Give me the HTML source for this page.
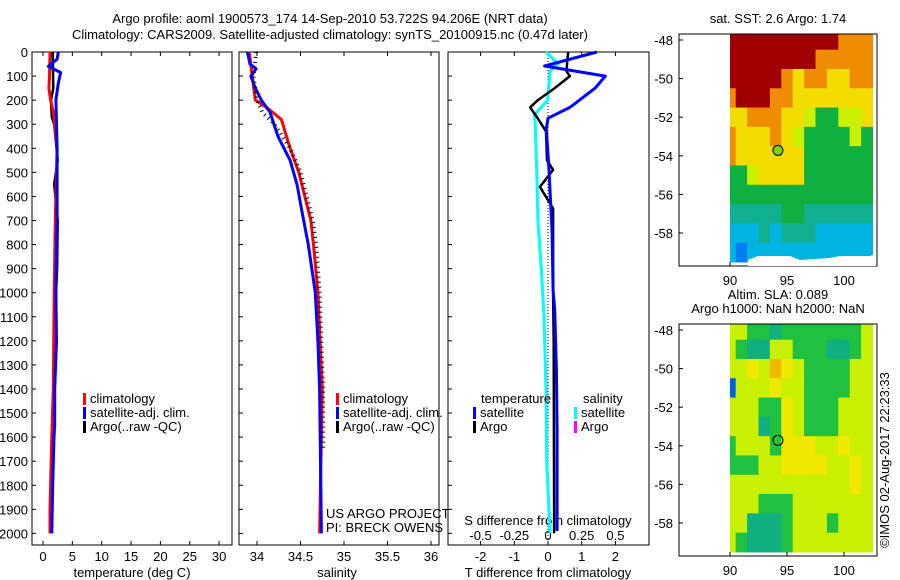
<!DOCTYPE html>
<html><head><meta charset="utf-8"><style>
html,body{margin:0;padding:0;background:#fff;}
svg{display:block;font-family:"Liberation Sans",sans-serif;}
text{font-size:13px;fill:#000;}
</style></head><body>
<svg id="c" width="900" height="580" viewBox="0 0 900 580">
<text x="330" y="23" text-anchor="middle">Argo profile: aoml 1900573_174 14-Sep-2010 53.722S 94.206E (NRT data)</text>
<text x="330" y="39" text-anchor="middle">Climatology: CARS2009. Satellite-adjusted climatology: synTS_20100915.nc (0.47d later)</text>
<text x="778" y="23" text-anchor="middle">sat. SST: 2.6 Argo: 1.74</text>
<text x="778" y="299" text-anchor="middle">Altim. SLA: 0.089</text>
<text x="778" y="313" text-anchor="middle">Argo h1000: NaN h2000: NaN</text>
<text x="0" y="0" transform="translate(889,460) rotate(-90)" text-anchor="middle">©IMOS 02-Aug-2017 22:23:33</text>
<text x="132" y="577" text-anchor="middle">temperature (deg C)</text>
<text x="337" y="577" text-anchor="middle">salinity</text>
<text x="548" y="577" text-anchor="middle">T difference from climatology</text>
<text x="548" y="525" text-anchor="middle">S difference from climatology</text>
<text x="326" y="518">US ARGO PROJECT</text>
<text x="326" y="532">PI: BRECK OWENS</text>
</svg>
<script>
// ---- data ----
const depthTicks=[0,100,200,300,400,500,600,700,800,900,1000,1100,1200,1300,1400,1500,1600,1700,1800,1900,2000];
const tempTicks=[0,5,10,15,20,25,30];
const salTicks=[34,34.5,35,35.5,36];
const salTickLabels=["34","34.5","35","35.5","36"];
const tdTicks=[-2,-1,0,1,2];
const sdTicks=[-0.5,-0.25,0,0.25,0.5];
const sdTickLabels=["-0.5","-0.25","0","0.25","0.5"];

const climTdepth=[0,50,100,150,200,250,300,400,700,1000,1400,1600,1900,2000];
const climT=[1.2,1.15,1.1,1.0,1.3,1.76,2.0,2.4,2.1,1.9,1.75,1.5,1.2,1.2];
const satTdepth=[0,30,60,85,130,200,400,700,1000,1200,1400,1550,1600,1800,2000];
const satT=[2.6,2.4,0.9,3.0,2.6,2.2,2.4,2.4,2.2,2.3,2.0,2.0,1.87,1.65,1.5];
const argoTdepth=[0,150,200,270,300,450,550,700,900,1200,1500,1800];
const argoT=[1.65,1.76,1.36,1.5,1.9,2.5,1.9,2.5,2.4,1.87,1.75,1.6];

const climSdepth=[0,200,230,280,400,500,600,700,800,1000,1400,2000];
const climS=[33.91,33.98,34.11,34.28,34.38,34.48,34.55,34.62,34.65,34.70,34.75,34.72];
const satSdepth=[0,50,70,100,150,200,250,350,450,550,650,800,900,1000,1200,1400,2000];
const satS=[33.89,33.92,33.99,33.93,33.98,34.05,34.15,34.24,34.38,34.46,34.51,34.59,34.63,34.67,34.70,34.72,34.74];
const argoSdepth=[0,100,200,250,300,400,500,600,700,800,1000,1400,1650];
const argoS=[33.99,33.96,34.0,34.06,34.2,34.38,34.5,34.57,34.64,34.68,34.72,34.76,34.76];

const dTsatDepth=[0,58,100,150,230,275,320,490,740,990,1070,1320,1570,1990];
const dTsat=[1.45,-0.1,1.7,1.4,0.65,0.0,-0.05,0.03,0.12,0.15,0.2,0.25,0.27,0.27];
const dTargoDepth=[0,40,80,100,150,200,230,270,330,450,490,560,650,720,1000,1200,1900,2000];
const dTargo=[0.6,0.57,0.55,0.65,0.2,-0.3,-0.53,-0.33,-0.06,-0.03,0.15,-0.24,0.15,0.15,0.15,0.17,0.18,0.18];
const dSsatDepth=[0,50,80,200,260,300,500,700,900,1100,1400,1700,2000];
const dSsat=[-0.015,0.075,0.015,-0.002,-0.1,-0.095,-0.083,-0.075,-0.05,-0.03,-0.015,-0.01,0.015];

const mapLonTicks=[90,95,100];
const mapLatTicks=[-48,-50,-52,-54,-56,-58];
const mapLons=[90,91,92,93,94,95,96,97,98,99,100,101,102];
const mapLats=[-48,-49,-50,-51,-52,-53,-54,-55,-56,-57,-58,-59];
const sstGrid=[
[7,7,7,7,7,7,7,7,7,7,6,6,6],
[7,7,7,7,7,7,7,7,6,6,6,6,6],
[7,7,7,7,7,6,5,6,6,5,5,6,6],
[6,7,7,7,6,6,5,5,5,5,5,5,5],
[5,5,6,6,6,5,5,4,3,3,4,4,5],
[6,5,5,5,6,5,4,3,3,3,3,4,3],
[6,5,5,5,5,5,5,3,3,3,3,3,3],
[3,3,4,5,5,5,5,3,3,3,3,3,3],
[3,3,3,3,3,3,3,3,3,3,3,3,3],
[2,2,2,2,2,3,3,2,2,2,2,2,2],
[1,1,1,2,1,2,2,2,1,1,1,1,1],
[1,0,1,1,1,1,1,1,1,1,1,1,1]];
const slaGrid=[
[4,4,3,3,2,3,3,3,3,3,3,3,4],
[4,3,2,2,4,4,3,3,3,2,2,3,4],
[4,4,5,4,6,5,4,3,3,3,3,4,4],
[0,4,4,4,5,4,4,3,3,3,3,4,4],
[4,4,4,3,3,5,4,3,3,3,4,4,4],
[4,4,4,2,3,5,4,3,3,3,4,4,4],
[3,4,4,4,3,5,5,5,4,4,5,4,4],
[3,3,3,4,4,5,5,5,5,4,4,5,4],
[4,4,4,4,4,4,4,4,4,4,4,5,4],
[4,4,4,3,3,3,4,4,4,4,4,4,4],
[4,4,2,2,2,3,4,4,4,3,4,4,4],
[4,3,2,2,2,3,4,4,4,4,4,4,4]];
const floatLon=94.206, floatLat=-53.722;

// ---- drawing ----
const svg=document.getElementById('c');
const NS='http://www.w3.org/2000/svg';
function mk(tag,attrs){const e=document.createElementNS(NS,tag);for(const k in attrs)e.setAttribute(k,attrs[k]);svg.appendChild(e);return e;}
const yD=d=>52+0.2407*d;
const xT=t=>43+5.87*t;
const xS=s=>257+87*(s-34);
const xDT=v=>548+33.7*v;
const xDS=v=>548+33.7*4*v;
const TOP=52,BOT=545;
const panels=[[32,232,'temperature'],[239,439,'salinity'],[448,649,'difference']];
panels.forEach(p=>{
  const r=mk('rect',{x:p[0],y:TOP,width:p[1]-p[0],height:BOT-TOP,fill:'none',stroke:'#000','stroke-width':1});
  
  
  depthTicks.forEach(d=>{
    const t=mk('line',{x1:p[0],x2:p[0]+4,y1:yD(d),y2:yD(d),stroke:'#000'});
    
    
  });
});
depthTicks.forEach(d=>{
  const t=mk('text',{x:28,y:yD(d)+5,'text-anchor':'end'});t.textContent=d;
  
  
});
function xTicks(vals,labels,fx,ly,name){
  vals.forEach((v,i)=>{
    const x=fx(v);
    [[TOP,TOP+4],[BOT,BOT-4]].forEach(a=>{
      const l=mk('line',{x1:x,x2:x,y1:a[0],y2:a[1],stroke:'#000'});
      
      
    });
    const t=mk('text',{x:x,y:ly,'text-anchor':'middle'});t.textContent=labels[i];
    
    
  });
}
xTicks(tempTicks,tempTicks.map(String),xT,561,'temperature');
xTicks(salTicks,salTickLabels,xS,561,'salinity');
xTicks(tdTicks,tdTicks.map(String),xDT,561,'tdiff');
sdTicks.forEach((v,i)=>{
  const t=mk('text',{x:xDS(v),y:540,'text-anchor':'middle'});t.textContent=sdTickLabels[i];
  
  
});
const z=mk('line',{x1:xDT(0),x2:xDT(0),y1:TOP,y2:BOT,stroke:'#000','stroke-dasharray':'1,2'});



function series(ds,vs,fx,color,w,name,dash){
  const pts=ds.map((d,i)=>fx(vs[i]).toFixed(1)+','+yD(d).toFixed(1)).join(' ');
  const a={points:pts,fill:'none',stroke:color,'stroke-width':w,'stroke-linejoin':'round'};
  if(dash)a['stroke-dasharray']=dash;
  const e=mk('polyline',a);
  
  
}
series(argoTdepth,argoT,xT,'#000',2.5,'argo-temperature-line');
series(climTdepth,climT,xT,'#f00',3,'climatology-temperature-line');
series(satTdepth,satT,xT,'#00f',3,'satellite-temperature-line');
series(climSdepth,climS,xS,'#f00',3,'climatology-salinity-line');
series(satSdepth,satS,xS,'#00f',3,'satellite-salinity-line');
series(argoSdepth,argoS,xS,'#000',4,'argo-salinity-line','1,4');
series(dSsatDepth,dSsat,xDS,'#0ff',3,'satellite-sdiff-line');
series(dTargoDepth,dTargo,xDT,'#000',2.5,'argo-tdiff-line');
series(dTsatDepth,dTsat,xDT,'#00f',3,'satellite-tdiff-line');

function legend(x,y,color,label,name){
  const r=mk('rect',{x:x,y:y-10,width:3,height:12,fill:color});
  
  
  const t=mk('text',{x:x+7,y:y});t.textContent=label;
  
  
}
[[83,'#f00','climatology'],[83,'#00f','satellite-adj. clim.'],[83,'#000','Argo(..raw -QC)']].forEach((l,i)=>legend(l[0],403+14*i,l[1],l[2],'temp-legend-'+i));
[[336,'#f00','climatology'],[336,'#00f','satellite-adj. clim.'],[336,'#000','Argo(..raw -QC)']].forEach((l,i)=>legend(l[0],403+14*i,l[1],l[2],'sal-legend-'+i));
{const t=mk('text',{x:481,y:403});t.textContent='temperature';}
{const t=mk('text',{x:583,y:403});t.textContent='salinity';}
legend(473,417,'#00f','satellite','diff-legend-t-sat');
legend(473,431,'#000','Argo','diff-legend-t-argo');
legend(574,417,'#0ff','satellite','diff-legend-s-sat');
legend(574,431,'#f0f','Argo','diff-legend-s-argo');

// maps
const sstColors=['#0080f0','#00b4e0','#10b090','#10b040','#c8f000','#f4dc00','#f08c00','#a00000'];
const slaColors=['#0060e0','#00b0e0','#10b080','#20c040','#c8f000','#f0e800','#f0b800','#a00000'];
function drawMap(oy,grid,colors,name){
  const lx=v=>730+11.4*(v-90);
  const ly=v=>oy+40+19.3*(-48-v);
  grid.forEach((row,ri)=>row.forEach((v,ci)=>{
    const x0=lx(mapLons[ci]-0.5<90?90:mapLons[ci]-0.5), x1=Math.min(lx(mapLons[ci]+0.5),877);
    const y0=Math.max(ly(mapLats[ri]+0.5),oy+34), y1=Math.min(ly(mapLats[ri]-0.5),oy+266);
    const c=mk('rect',{x:x0,y:y0,width:x1-x0+0.5,height:y1-y0+0.5,fill:colors[v]});
    
    
  }));
  const f=mk('rect',{x:679,y:oy+34,width:198,height:232,fill:'none',stroke:'#000'});
  
  
  mapLonTicks.forEach(v=>{
    const l=mk('line',{x1:lx(v),x2:lx(v),y1:oy+266,y2:oy+262,stroke:'#000'});
    
    
    const t=mk('text',{x:lx(v),y:oy+285,'text-anchor':'middle'});t.textContent=v;
    
    
  });
  mapLatTicks.forEach(v=>{
    const l=mk('line',{x1:679,x2:683,y1:ly(v),y2:ly(v),stroke:'#000'});
    
    
    const t=mk('text',{x:673,y:ly(v)+5,'text-anchor':'end'});t.textContent=v;
    
    
  });
  const c=mk('circle',{cx:lx(floatLon),cy:ly(floatLat),r:5,fill:name==='sst-map'?'#7cd000':'none',stroke:'#000','stroke-width':1});
  
  
}
drawMap(0,sstGrid,sstColors,'sst-map');
{const w=mk('path',{d:'M748 266 L748 260 L758 256 L790 256 L800 260 L830 258 L840 256 L870 256 L876 254 L876 266 Z',fill:'#fff'});}
drawMap(290,slaGrid,slaColors,'sla-map');
</script>
</body></html>
